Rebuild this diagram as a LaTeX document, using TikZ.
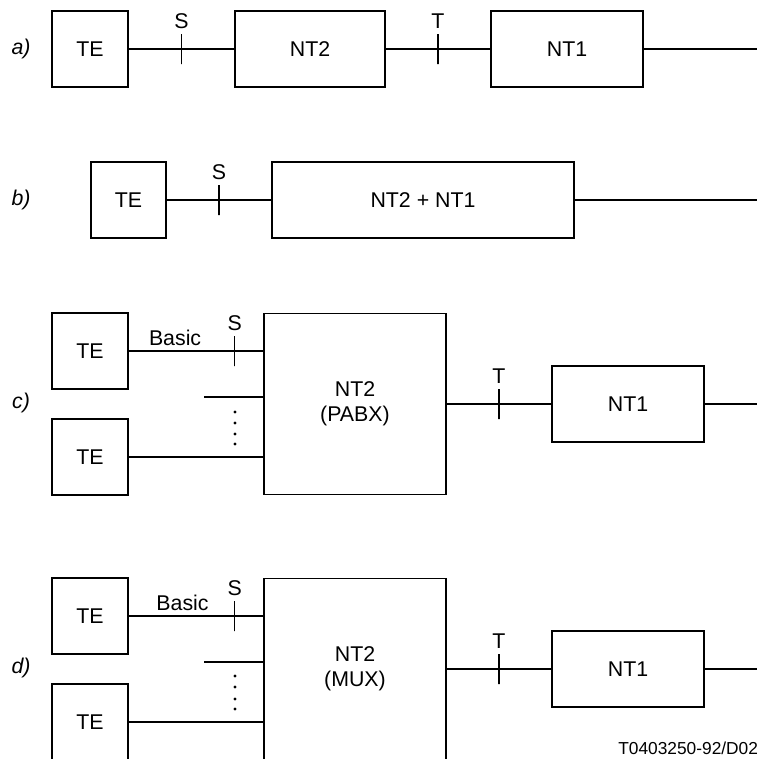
\documentclass[tikz,border=0pt]{standalone}
\usepackage{fontspec}
\setmainfont{Liberation Sans}
\usetikzlibrary{calc, positioning}

\begin{document}
\begin{tikzpicture}[x=0.75pt, y=-0.75pt, line width=0.8pt,
  txt/.style={font=\fontsize{16}{19}\selectfont},
  blk/.style={draw, txt, inner sep=0pt, align=center},
  sq/.style={blk, minimum width=57pt, minimum height=57pt},
  nt1/.style={blk, minimum width=114pt, minimum height=57pt},
  tag/.style={font=\fontsize{16}{19}\selectfont\itshape},
  tick/.style={draw, inner sep=0pt, minimum width=0pt, minimum height=22.5pt,
    label={[txt, inner sep=3pt]above:#1}},
  dotmark/.style={fill=black}]

% page size of the reference
\path[use as bounding box] (0,0) rectangle (764,758);
\clip (0,0) rectangle (764,758);

% a) TE - NT2 - NT1
\node[tag] (la) at (21,49) {a)};
\node[sq] (TEa) at (90,49) {TE};
\node[blk, minimum width=112.5pt, minimum height=57pt] (NT2a) at (310,49) {NT2};
\node[nt1] (NT1a) at (567,49) {NT1};
\coordinate (enda) at (757,49);
\draw (TEa) -- node[tick=S] {} (NT2a);
\draw (NT2a) -- node[tick=T] {} (NT1a);
\draw (NT1a) -- (enda);

% b) TE - combined NT2 + NT1
\node[tag] (lb) at (21,200) {b)};
\node[blk, minimum width=56.25pt, minimum height=57pt] (TEb) at (128.5,200) {TE};
\node[blk, minimum width=226.5pt, minimum height=57pt] (NTb) at (423,200) {NT2 + NT1};
\coordinate (endb) at (757,200);
\draw (TEb) -- node[tick=S] {} (NTb);
\draw (NTb) -- (endb);

% c) several TE on a PABX
\node[tag] (lc) at (21,403) {c)};
\node[sq] (TEc1) at (90,351) {TE};
\node[sq] (TEc2) at (90,457) {TE};
\node[blk, minimum width=136.5pt, minimum height=135.75pt] (NT2c) at (355,404) {NT2\\(PABX)};
\node[nt1] (NT1c) at (628,404) {NT1};
\coordinate (stubc) at (204,397);
\coordinate (endc) at (757,404);
\draw (TEc1) -- node[txt, pos=.345, above] {Basic} node[tick=S, pos=.787] {} (TEc1 -| NT2c.west);
\draw (stubc) -- (stubc -| NT2c.west);
\draw (TEc2) -- (TEc2 -| NT2c.west);
\foreach \yy in {412,423,434,444}
  \fill[dotmark] (235,\yy) circle (1.2pt);
\draw (NT2c) -- node[tick=T] {} (NT1c);
\draw (NT1c) -- (endc);

% d) several TE on a MUX
\node[tag] (ld) at (21,668) {d)};
\node[sq] (TEd1) at (90,616) {TE};
\node[sq] (TEd2) at (90,722) {TE};
\node[blk, minimum width=136.5pt, minimum height=135.75pt] (NT2d) at (355,669) {NT2\\(MUX)};
\node[nt1] (NT1d) at (628,669) {NT1};
\coordinate (stubd) at (204,662);
\coordinate (endd) at (757,669);
\draw (TEd1) -- node[txt, pos=.40, above] {Basic} node[tick=S, pos=.787] {} (TEd1 -| NT2d.west);
\draw (stubd) -- (stubd -| NT2d.west);
\draw (TEd2) -- (TEd2 -| NT2d.west);
\foreach \yy in {676,687,699,709}
  \fill[dotmark] (235,\yy) circle (1.2pt);
\draw (NT2d) -- node[tick=T] {} (NT1d);
\draw (NT1d) -- (endd);

% figure reference
\node[anchor=east, font=\fontsize{13}{15}\selectfont] (ref) at (763,748) {T0403250-92/D02};

\end{tikzpicture}
\end{document}
